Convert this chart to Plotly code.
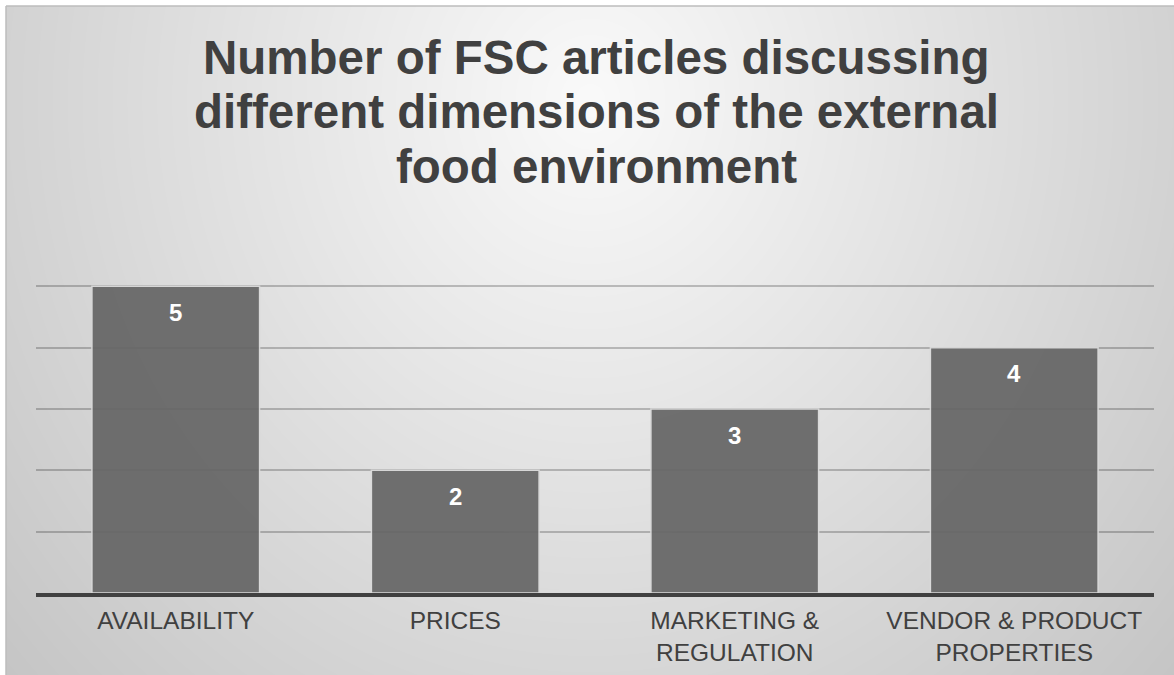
import base64
import struct
import zlib

import numpy as np
import plotly.graph_objects as go

# ---- data ----
categories = [
    "AVAILABILITY",
    "PRICES",
    "MARKETING &<br>REGULATION",
    "VENDOR & PRODUCT<br>PROPERTIES",
]
article_counts = [5, 2, 3, 4]
title_lines = [
    "Number of FSC articles discussing",
    "different dimensions of the external",
    "food environment",
]

W, H = 1174, 675
FRAME_X0, FRAME_Y0 = 6, 6          # white gutter to the left / top of the chart frame
PLOT_L, PLOT_R, PLOT_T, PLOT_B = 36, 1154, 225, 593

FONT = "Liberation Sans, Arial, sans-serif"
TEXT_DARK = "#404040"


def px_to_paper(px, py):
    """Convert figure pixel coordinates to plot-area paper coordinates."""
    return (px - PLOT_L) / (PLOT_R - PLOT_L), (PLOT_B - py) / (PLOT_B - PLOT_T)


def gray_png(arr):
    """Encode a 2-D uint8 array as a greyscale PNG data URI."""
    h, w = arr.shape
    raw = b"".join(b"\x00" + arr[i].tobytes() for i in range(h))

    def chunk(tag, data):
        out = struct.pack(">I", len(data)) + tag + data
        return out + struct.pack(">I", zlib.crc32(tag + data) & 0xFFFFFFFF)

    png = (b"\x89PNG\r\n\x1a\n"
           + chunk(b"IHDR", struct.pack(">IIBBBBB", w, h, 8, 0, 0, 0, 0))
           + chunk(b"IDAT", zlib.compress(raw, 9))
           + chunk(b"IEND", b""))
    return "data:image/png;base64," + base64.b64encode(png).decode()


# soft radial backdrop: light near the top centre, greyer toward the edges
fw, fh = W - FRAME_X0, H - FRAME_Y0
yy, xx = np.mgrid[0:fh, 0:fw].astype(float)
xx += FRAME_X0
yy += FRAME_Y0
dark = 5 + np.sqrt((39.5 * (xx - 590) / 590) ** 2 + (0.0612 * (yy - 100)) ** 2)
backdrop = np.clip(255 - dark, 0, 255).astype(np.uint8)
backdrop_uri = gray_png(backdrop)

fig = go.Figure()

fig.add_trace(go.Bar(
    x=categories,
    y=article_counts,
    marker=dict(color="#666666", opacity=0.93,
                line=dict(color="#dadada", width=1.5)),
    hoverinfo="x+y",
    showlegend=False,
))

# value labels just inside the top of each bar
for cat, val in zip(categories, article_counts):
    fig.add_annotation(
        x=cat, y=val, xref="x", yref="y",
        text=f"<b>{val}</b>", showarrow=False,
        yanchor="middle", yshift=-26,
        font=dict(family=FONT, size=24, color="#ffffff"),
    )

# three-line heading
title_mid_px = [57, 112, 166]
for line, ypx in zip(title_lines, title_mid_px):
    tx, ty = px_to_paper(596, ypx)
    fig.add_annotation(
        x=tx, y=ty, xref="paper", yref="paper",
        text=f"<b>{line}</b>", showarrow=False,
        xanchor="center", yanchor="middle",
        font=dict(family=FONT, size=47.5, color=TEXT_DARK),
    )

img_x, img_y = px_to_paper(FRAME_X0, FRAME_Y0)
fig.add_layout_image(dict(
    source=backdrop_uri, xref="paper", yref="paper",
    x=img_x, y=img_y,
    sizex=fw / (PLOT_R - PLOT_L), sizey=fh / (PLOT_B - PLOT_T),
    xanchor="left", yanchor="top", sizing="stretch", layer="below",
))

# thin frame edge along the top and left
fx0, fy1 = px_to_paper(FRAME_X0, FRAME_Y0)
fx1, fy0 = px_to_paper(W, H)
fig.add_shape(type="line", xref="paper", yref="paper",
              x0=fx0, x1=fx1, y0=fy1, y1=fy1,
              line=dict(color="#bdbdbd", width=1.5))
fig.add_shape(type="line", xref="paper", yref="paper",
              x0=fx0, x1=fx0, y0=fy0, y1=fy1,
              line=dict(color="#bdbdbd", width=1.5))

fig.update_layout(
    width=W, height=H,
    margin=dict(l=PLOT_L, r=W - PLOT_R, t=PLOT_T, b=H - PLOT_B, pad=0,
                autoexpand=False),
    paper_bgcolor="#ffffff",
    plot_bgcolor="rgba(0,0,0,0)",
    bargap=0.4,
    font=dict(family=FONT, color=TEXT_DARK),
    xaxis=dict(
        showline=True, linecolor="#404040", linewidth=3.5,
        showgrid=False, ticks="", tickfont=dict(size=24.5, color=TEXT_DARK),
        ticklabelstandoff=3, automargin=False, fixedrange=True,
    ),
    yaxis=dict(
        range=[0, 6], dtick=1, showticklabels=False, ticks="",
        showgrid=True, gridcolor="rgba(0,0,0,0.22)", gridwidth=1.5,
        zeroline=False, showline=False, automargin=False, fixedrange=True,
    ),
)

fig.write_html("out.html")
